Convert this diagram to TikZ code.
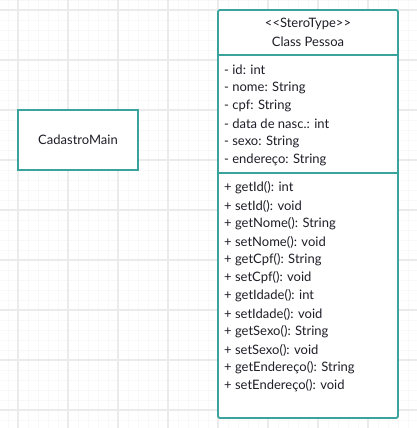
\documentclass[tikz,border=0pt]{standalone}
\usepackage{fontspec}
\setmainfont{Lato}
\definecolor{teal1}{HTML}{3AA39C}
\definecolor{gridmajor}{HTML}{EBEBEB}
\definecolor{gridminor}{HTML}{F8F8F8}
\definecolor{txt}{HTML}{1E1E28}
\begin{document}
\begin{tikzpicture}[x=1pt,y=-1pt,
  boxstyle/.style={draw=teal1, line width=1.8pt, fill=white, inner sep=0pt},
  member/.style={anchor=west, inner sep=0pt, font=\fontsize{13}{15}\selectfont, text=txt},
  title/.style={inner sep=0pt, font=\fontsize{13}{15}\selectfont, text=txt}]
\useasboundingbox (0,0) rectangle (417,428);
\fill[white] (0,0) rectangle (417,428);
% minor grid
\foreach \x in {8,18,...,418} \draw[gridminor, line width=0.8pt] (\x,0) -- (\x,428);
\foreach \y in {0,10,...,430} \draw[gridminor, line width=0.8pt] (0,\y) -- (417,\y);
% major grid
\foreach \x in {18,68,...,418} \draw[gridmajor, line width=1.2pt] (\x,0) -- (\x,428);
\foreach \y in {10,60,...,430} \draw[gridmajor, line width=1.2pt] (0,\y) -- (417,\y);

% CadastroMain
\node[boxstyle, minimum width=120pt, minimum height=60pt] (main) at (78,140) {};
\node[title] (maintxt) at (78,140) {CadastroMain};

% Class Pessoa
\node[boxstyle, rounded corners=2pt, minimum width=180pt, minimum height=408pt] (pessoa) at (308,214) {};
\draw[teal1, line width=1.8pt] (218,55) -- (398,55);
\draw[teal1, line width=1.8pt] (218,173) -- (398,173);
\node[title] (stereo) at (308,24) {<{}<SteroType>{}>};
\node[title] (cname) at (308,42) {Class Pessoa};

\node[member] (a1) at (224,70) {- id: int};
\node[member] (a2) at (224,88) {- nome: String};
\node[member] (a3) at (224,106) {- cpf: String};
\node[member] (a4) at (224,124) {- data de nasc.: int};
\node[member] (a5) at (224,142) {- sexo: String};
\node[member] (a6) at (224,160) {- endereço: String};

\node[member] (m1) at (224,188) {+ getId(): int};
\node[member] (m2) at (224,206) {+ setId(): void};
\node[member] (m3) at (224,224) {+ getNome(): String};
\node[member] (m4) at (224,242) {+ setNome(): void};
\node[member] (m5) at (224,260) {+ getCpf(): String};
\node[member] (m6) at (224,278) {+ setCpf(): void};
\node[member] (m7) at (224,296) {+ getIdade(): int};
\node[member] (m8) at (224,314) {+ setIdade(): void};
\node[member] (m9) at (224,332) {+ getSexo(): String};
\node[member] (m10) at (224,350) {+ setSexo(): void};
\node[member] (m11) at (224,368) {+ getEndereço(): String};
\node[member] (m12) at (224,386) {+ setEndereço(): void};
\end{tikzpicture}
\end{document}
